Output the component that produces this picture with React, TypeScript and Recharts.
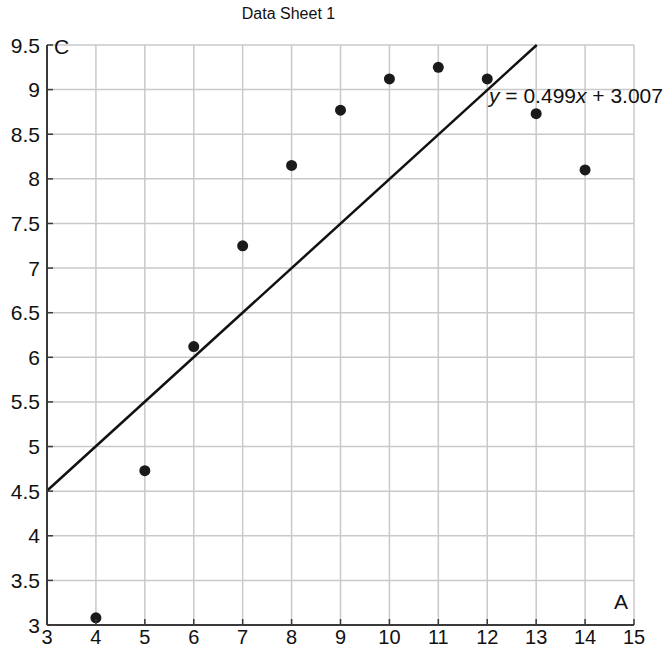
import * as React from 'react';
import { ComposedChart, Scatter, XAxis, YAxis, CartesianGrid, ReferenceLine } from 'recharts';

const xValues = [4, 5, 6, 7, 8, 9, 10, 11, 12, 13, 14];
const cValues = [3.08, 4.73, 6.12, 7.25, 8.15, 8.77, 9.12, 9.25, 9.12, 8.73, 8.1];
const xTicks = [3, 4, 5, 6, 7, 8, 9, 10, 11, 12, 13, 14, 15];
const yTicks = [3, 3.5, 4, 4.5, 5, 5.5, 6, 6.5, 7, 7.5, 8, 8.5, 9, 9.5];
const slope = 0.499;
const intercept = 3.007;

const FONT = '"Liberation Sans", Arial, sans-serif';
const AXIS = '#3a3a3a';

const points = xValues.map((a, i) => ({ a, c: cValues[i] }));

// fit line clipped to the plot box (x from 3, y up to 9.5)
const fitStart = { x: 3, y: slope * 3 + intercept };
const fitEnd = { x: (9.5 - intercept) / slope, y: 9.5 };

function YTick({ x, y, payload }: any) {
  return (
    <g>
      <line x1={x + 7} x2={x + 13} y1={y} y2={y} stroke={AXIS} strokeWidth={1.5} />
      <text x={x} y={y} textAnchor="end" dominantBaseline="central" fontSize={21} fill="#111" fontFamily={FONT}>
        {payload.value}
      </text>
    </g>
  );
}

function XTick({ x, y, payload }: any) {
  return (
    <g>
      <line x1={x} x2={x} y1={y - 3} y2={y - 9} stroke={AXIS} strokeWidth={1.5} />
      <text x={x} y={y + 16} textAnchor="middle" fontSize={20} fill="#111" fontFamily={FONT}>
        {payload.value}
      </text>
    </g>
  );
}

function Dot({ cx, cy }: any) {
  return <circle cx={cx} cy={cy} r={5.5} fill="#1a1a1a" />;
}

export default function App() {
  return (
    <div style={{ position: 'absolute', left: 0, top: 0, width: 669, height: 648, background: '#fff', fontFamily: FONT }}>
      <ComposedChart width={669} height={648} margin={{ top: 45, right: 35, left: 0, bottom: 0 }}>
        <CartesianGrid stroke="#c9c9c9" strokeWidth={1.5} />
        <XAxis
          type="number"
          dataKey="a"
          domain={[3, 15]}
          ticks={xTicks}
          interval={0}
          height={23}
          tickSize={0}
          tickMargin={3}
          axisLine={{ stroke: AXIS, strokeWidth: 2 }}
          tick={<XTick />}
        />
        <YAxis
          type="number"
          dataKey="c"
          domain={[3, 9.5]}
          ticks={yTicks}
          interval={0}
          width={47}
          tickSize={0}
          tickMargin={7}
          axisLine={{ stroke: AXIS, strokeWidth: 2 }}
          tick={<YTick />}
        />
        <ReferenceLine segment={[fitStart, fitEnd]} stroke="#111" strokeWidth={2.5} ifOverflow="visible" />
        <Scatter data={points} fill="#1a1a1a" shape={<Dot />} isAnimationActive={false} />
      </ComposedChart>
      <div style={{ position: 'absolute', left: 0, width: 577, top: 5, textAlign: 'center', fontSize: 16, color: '#111' }}>
        Data Sheet 1
      </div>
      <div style={{ position: 'absolute', left: 54, top: 35, fontSize: 21, color: '#111' }}>C</div>
      <div style={{ position: 'absolute', left: 614, top: 590, fontSize: 21, color: '#111' }}>A</div>
      <div style={{ position: 'absolute', left: 489, top: 84, fontSize: 21, color: '#111', whiteSpace: 'nowrap' }}>
        <i>y</i> = 0.499<i>x</i> + 3.007
      </div>
    </div>
  );
}
